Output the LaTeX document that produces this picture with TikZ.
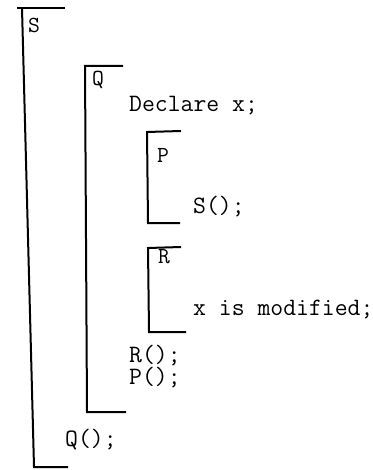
\documentclass[tikz,border=0pt]{standalone}
\begin{document}
\begin{tikzpicture}[x=1pt,y=-1pt,
  code/.style={inner sep=0pt,anchor=base west,font=\ttfamily\fontsize{25}{19}\selectfont},
  blocklabel/.style={inner sep=0pt,anchor=base west,font=\ttfamily\fontsize{23}{24}\selectfont},
  bracket/.style={line width=2pt,line join=miter}]
\useasboundingbox (0,0) rectangle (372,470);

% block S
\draw[bracket] (65,8) -- (17,8);
\draw[bracket] (22,8) -- (34,467) -- (68,467);
\node[blocklabel] (labS) at (28,33) {S};

% block Q
\draw[bracket] (123,66) -- (85,66) -- (87,412) -- (126,412);
\node[blocklabel] (labQ) at (92,86) {Q};
\node[code] (decl) at (129,112) {Declare x;};

% block P
\draw[bracket] (181,131) -- (147,132) -- (148,223) -- (180,223);
\node[blocklabel] (labP) at (157,163) {P};
\node[code] (callS) at (193,213) {S();};

% block R
\draw[bracket] (181,247) -- (148,248) -- (149,332) -- (186,332);
\node[blocklabel] (labR) at (158,263) {R};
\node[code] (modx) at (193,315) {x is modified;};

% calls in Q and S (base anchor sits on the last line)
\node[code,align=left] (calls) at (129,384) {R();\\P();};
\node[code] (callQ) at (65,446) {Q();};
\end{tikzpicture}
\end{document}
